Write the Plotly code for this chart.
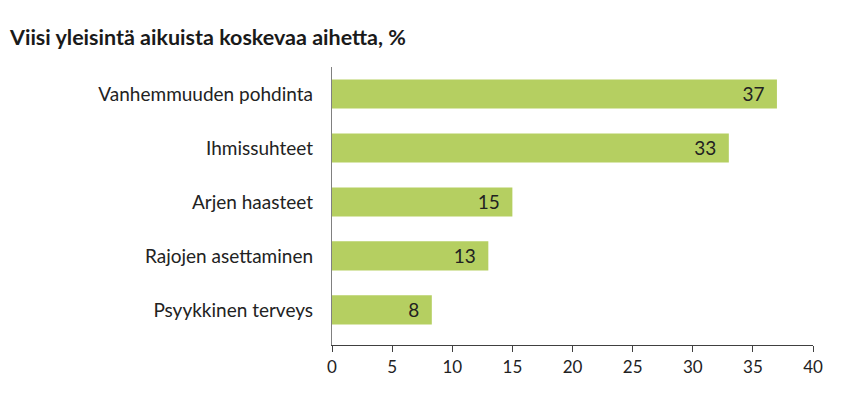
import plotly.graph_objects as go

categories = ["Psyykkinen terveys", "Rajojen asettaminen", "Arjen haasteet",
              "Ihmissuhteet", "Vanhemmuuden pohdinta"]
values = [8.3, 13, 15, 33, 37]
labels = ["8", "13", "15", "33", "37"]
x_ticks = [0, 5, 10, 15, 20, 25, 30, 35, 40]
title = "Viisi yleisintä aikuista koskevaa aihetta, %"

fig = go.Figure(go.Bar(
    x=values, y=categories, orientation="h",
    marker=dict(color="#b5cf61", line=dict(width=0)),
    width=0.54,
    text=[t + "\u2002" for t in labels], textposition="inside", insidetextanchor="end",
    textfont=dict(family="Lato", size=19, color="#222222"),
    cliponaxis=False,
))

fig.update_layout(
    width=843, height=387,
    paper_bgcolor="white", plot_bgcolor="white",
    margin=dict(l=324, r=38, t=59, b=50),
    showlegend=False,
    uniformtext=dict(minsize=19, mode="show"),
    title=dict(text="<b>" + title + "</b>", x=2/843, xref="container", xanchor="left",
               y=1 - 29/387, yref="container", yanchor="middle",
               font=dict(family="Lato", size=21.5, color="#1a1a1a")),
    xaxis=dict(range=[0, 40], tickvals=x_ticks, showgrid=False, zeroline=False,
               showline=True, linecolor="#404040", linewidth=1.3,
               ticks="outside", ticklen=6, tickcolor="#404040", tickwidth=1.3,
               tickfont=dict(family="Lato", size=17, color="#222222"),
               fixedrange=True),
    yaxis=dict(range=[-0.65, 4.5], showgrid=False, zeroline=False,
               showline=True, linecolor="#808080", linewidth=1.3,
               ticks="", ticklabelstandoff=14,
               tickfont=dict(family="Lato", size=19, color="#222222"),
               fixedrange=True),
)

fig.write_html("out.html")
